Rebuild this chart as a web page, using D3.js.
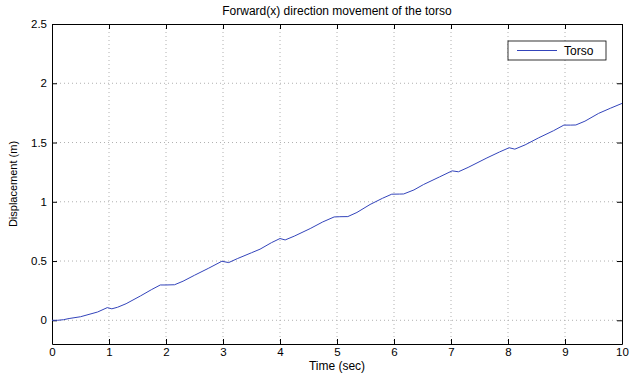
<!DOCTYPE html>
<html>
<head>
<meta charset="utf-8">
<script src="https://cdn.jsdelivr.net/npm/d3@7"></script>
<style>
  body { margin: 0; background: #fff; }
  text { font-family: "Liberation Sans", Arial, sans-serif; fill: #000; }
</style>
</head>
<body>
<div id="chart"></div>
<script>
// Time (sec) and torso displacement (m)
const times = [0, 0.1, 0.2, 0.3, 0.5, 0.8, 0.97, 1.05, 1.15, 1.3, 1.55, 1.75, 1.9, 2.0, 2.15,
  2.3, 2.5, 2.75, 2.98, 3.1, 3.25, 3.5, 3.65, 3.85, 4.0, 4.09, 4.25, 4.53, 4.75, 4.95,
  5.05, 5.19, 5.35, 5.58, 5.8, 5.96, 6.1, 6.17, 6.35, 6.52, 6.8, 7.02, 7.13, 7.3, 7.63,
  7.85, 8.02, 8.12, 8.3, 8.54, 8.8, 8.98, 9.1, 9.19, 9.35, 9.59, 9.8, 10];
const torso = [0, 0, 0.005, 0.015, 0.03, 0.07, 0.107, 0.097, 0.11, 0.14, 0.205, 0.26, 0.298, 0.298, 0.3,
  0.33, 0.38, 0.44, 0.498, 0.487, 0.52, 0.57, 0.6, 0.655, 0.69, 0.678, 0.71, 0.774, 0.83, 0.872,
  0.874, 0.875, 0.91, 0.977, 1.03, 1.064, 1.065, 1.066, 1.1, 1.146, 1.21, 1.261, 1.253, 1.29, 1.37,
  1.42, 1.456, 1.444, 1.48, 1.54, 1.6, 1.647, 1.647, 1.648, 1.68, 1.746, 1.79, 1.83];
const xTicks = [0, 1, 2, 3, 4, 5, 6, 7, 8, 9, 10];
const yTicks = [0, 0.5, 1, 1.5, 2, 2.5];

const width = 630, height = 373;
const margin = { top: 24, right: 8, bottom: 29, left: 52 };

const svg = d3.select("#chart")
    .append("svg")
    .attr("width", width)
    .attr("height", height);

const x = d3.scaleLinear().domain([0, 10]).range([margin.left, width - margin.right]);
const y = d3.scaleLinear().domain([-0.2, 2.5]).range([height - margin.bottom, margin.top]);

// dotted grid
svg.append("g")
    .selectAll("line.vg")
    .data(xTicks.slice(1, -1))
    .enter().append("line")
    .attr("x1", d => x(d)).attr("x2", d => x(d))
    .attr("y1", y(2.5)).attr("y2", y(-0.2))
    .attr("stroke", "#b0b0b0")
    .attr("stroke-dasharray", "1,3");

svg.append("g")
    .selectAll("line.hg")
    .data(yTicks.slice(0, -1))
    .enter().append("line")
    .attr("x1", x(0)).attr("x2", x(10))
    .attr("y1", d => y(d)).attr("y2", d => y(d))
    .attr("stroke", "#b0b0b0")
    .attr("stroke-dasharray", "1,3");

// axes with inward ticks on all four sides
const fmt = d3.format("");
svg.append("g")
    .attr("transform", `translate(0,${y(-0.2)})`)
    .call(d3.axisBottom(x).tickValues(xTicks).tickFormat(fmt).tickSizeInner(-5).tickSizeOuter(0).tickPadding(4));
svg.append("g")
    .attr("transform", `translate(${x(0)},0)`)
    .call(d3.axisLeft(y).tickValues(yTicks).tickFormat(fmt).tickSizeInner(-5).tickSizeOuter(0).tickPadding(5));
svg.append("g")
    .attr("transform", `translate(0,${y(2.5)})`)
    .call(d3.axisTop(x).tickValues(xTicks).tickFormat("").tickSizeInner(-5).tickSizeOuter(0));
svg.append("g")
    .attr("transform", `translate(${x(10)},0)`)
    .call(d3.axisRight(y).tickValues(yTicks).tickFormat("").tickSizeInner(-5).tickSizeOuter(0));

svg.selectAll(".tick text").style("font-size", "11.5px").attr("fill", "#000");
svg.selectAll(".domain, .tick line").attr("stroke", "#000");

// data line
const pts = times.map((t, i) => [t, torso[i]]);
svg.append("path")
    .datum(pts)
    .attr("fill", "none")
    .attr("stroke", "#3344bb")
    .attr("stroke-width", 1)
    .attr("d", d3.line().x(d => x(d[0])).y(d => y(d[1])));

// legend
const lg = svg.append("g").attr("transform", "translate(508,41)");
lg.append("rect")
    .attr("width", 98).attr("height", 19)
    .attr("fill", "#fff").attr("stroke", "#000").attr("stroke-width", 0.8);
lg.append("line")
    .attr("x1", 9).attr("x2", 49).attr("y1", 9.5).attr("y2", 9.5)
    .attr("stroke", "#3344bb");
lg.append("text")
    .attr("x", 56).attr("y", 14)
    .style("font-size", "12px")
    .text("Torso");

// titles
svg.append("text")
    .attr("x", 337).attr("y", 15)
    .attr("text-anchor", "middle")
    .style("font-size", "12px")
    .text("Forward(x) direction movement of the torso");

svg.append("text")
    .attr("x", 337).attr("y", 370)
    .attr("text-anchor", "middle")
    .style("font-size", "12px")
    .text("Time (sec)");

svg.append("text")
    .attr("transform", "translate(17,184) rotate(-90)")
    .attr("text-anchor", "middle")
    .style("font-size", "11px")
    .text("Displacement (m)");
</script>
</body>
</html>
